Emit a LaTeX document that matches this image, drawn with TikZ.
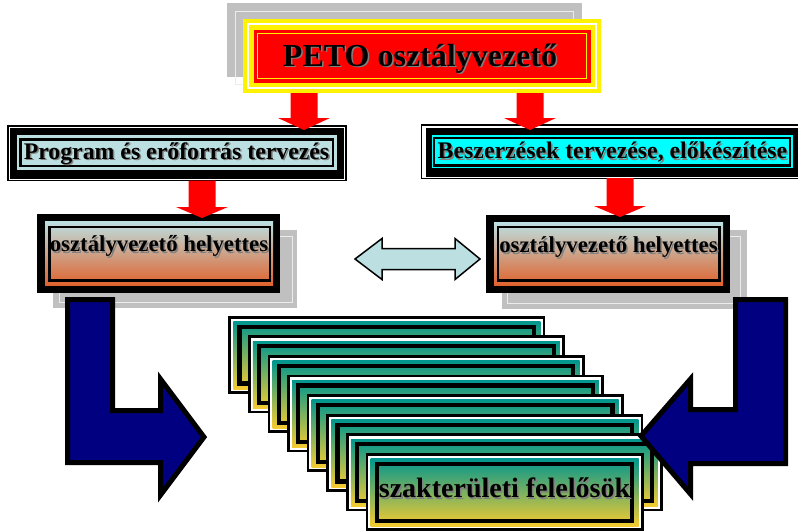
\documentclass[tikz,border=0pt]{standalone}
\usepackage{fontspec}
\setmainfont{Liberation Serif}
\usepackage{tikz}
\definecolor{progblue}{RGB}{188,224,226}
\definecolor{beszcyan}{RGB}{0,255,255}
\definecolor{shadowgray}{RGB}{192,192,192}
\definecolor{deporange}{RGB}{224,98,44}
\definecolor{cardteal}{RGB}{0,150,142}
\definecolor{cardmid}{RGB}{118,156,132}
\definecolor{cardyellow}{RGB}{246,204,48}
\definecolor{navyblue}{RGB}{0,0,128}
\newcommand{\shtext}[2][1.5pt]{\rlap{\kern#1\raisebox{-#1}{\textcolor{gray}{#2}}}#2}
\def\redarrow(#1:#2:#3:#4){\fill[color=red] (#1-13.5,#2) -- (#1+13.5,#2) -- (#1+13.5,#3) -- (#1+26,#3) -- (#1,#4) -- (#1-26,#3) -- (#1-13.5,#3) -- cycle;}
\def\card(#1:#2:#3){\begin{scope}[shift={(#1,#2)}]
	\draw[line width=2.7pt, fill=white] (1.35,1.2) rectangle (#3-1.35,76.3);
	\shade[cardshade] (5,5.5) rectangle (#3-5,73);
	\draw[line width=4.2pt] (11.2,10.7) rectangle (#3-11.2,67.5);
	\end{scope}}
\tikzset{
	petotext/.style={font=\bfseries\fontsize{32}{34}\selectfont, inner sep=0pt},
	plantext/.style={font=\bfseries\fontsize{23.8}{26}\selectfont, inner sep=0pt},
	deputytext/.style={font=\bfseries\fontsize{22.8}{25}\selectfont, inner sep=0pt},
	cardtext/.style={font=\bfseries\fontsize{28}{30}\selectfont, inner sep=0pt},
	cardshade/.style={top color=cardteal, middle color=cardmid, bottom color=cardyellow},
	deputyshade/.style={top color=progblue, bottom color=deporange},
	bigarrow/.style={fill=navyblue, draw=black, line width=5pt, line join=miter}
}

\begin{document}
\begin{tikzpicture}[x=1pt, y=-1pt]
			%%%%% START %%%%%
			\useasboundingbox (0,0) rectangle (798,531);
			\clip (0,0) rectangle (798,531);
			
			\fill[shadowgray] (227,3) rectangle (582,77);
			\draw[line width=1pt, color=white!85!gray] (235,11) rectangle (573,84);
			\fill[yellow] (243,19) rectangle (601,93);
			\draw[line width=2.5pt, color=white] (247.8,23.8) rectangle (596.2,88.2);
			\fill[red] (253.5,29.5) rectangle (590.5,82.5);
			\draw[line width=1.8pt, color=yellow] (257.5,33.5) rectangle (586.5,78.5);
			\node[petotext] (peto) at (420,59) {\shtext{PETO osztályvezető}};
			
			\draw[line width=1.6pt, fill=white] (7.8,125.8) rectangle (346,180.5);
			\fill (10,128.3) rectangle (343.5,178.5);
			\fill[progblue] (16.7,135) rectangle (337,170);
			\draw[line width=2.2pt] (20.5,139.5) rectangle (333.2,166);
			\node[plantext] (tervezes) at (176.5,154) {\shtext{Program és erőforrás tervezés}};
			
			\draw[line width=1.6pt, fill=white] (421.5,124.8) rectangle (803,178.5);
			\fill (426,128.3) rectangle (800,176.7);
			\fill[beszcyan] (431.7,135) rectangle (792.5,168.3);
			\draw[line width=2.2pt] (434.3,137.8) rectangle (790,165.5);
			\node[plantext] (beszerzes) at (612.5,153) {\shtext{Beszerzések tervezése, előkészítése}};
			
			\redarrow(304:93:118:130)
			\redarrow(530:93:118:130)
			
			\fill[shadowgray] (53,230) rectangle (297,308);
			\draw[line width=1pt, color=white!85!gray] (59,236) rectangle (292,302);
			\fill (37,214) rectangle (280,293);
			\shade[deputyshade] (45,221.5) rectangle (273,285.5);
			\draw[line width=2.3pt] (49.5,227) rectangle (270,280.5);
			\node[deputytext] (helyettesL) at (159,247) {\shtext{osztályvezető helyettes}};
			
			\fill[shadowgray] (502,230) rectangle (747,309);
			\draw[line width=1pt, color=white!85!gray] (507,236) rectangle (740,303);
			\fill (486,215) rectangle (730,293);
			\shade[deputyshade] (494,222.5) rectangle (723,285.5);
			\draw[line width=2.3pt] (498,227.3) rectangle (719.5,280.5);
			\node[deputytext] (helyettesR) at (608.5,248) {\shtext{osztályvezető helyettes}};
			
			\redarrow(202:180.5:207:218)
			\redarrow(620:178:206:217)
			
			\draw[fill=progblue, line width=1.5pt] (355,259) -- (382,238.5) -- (382,248.5) -- (455,248.5) -- (455,238.5) -- (480,259) -- (455,279.5) -- (455,269.5) -- (382,269.5) -- (382,279.5) -- cycle;
			
			\card(228.3:316:317)
			\card(247.9:335.6:317)
			\card(267.5:355.2:317)
			\card(287.1:374.8:317)
			\card(306.7:394.4:317)
			\card(326.3:414:317)
			\card(345.9:433.6:317)
			\card(365.5:453.2:278)
			\node[cardtext] (szakfelelos) at (504.5,489) {\shtext{szakterületi felelősök}};
			
			\draw[bigarrow] (67.5,299.5) -- (112.5,299.5) -- (112.5,410.5) -- (160.5,410.5) -- (160.5,379) -- (204,437) -- (160.5,495) -- (160.5,462.5) -- (67.5,462.5) -- cycle;
			\draw[bigarrow] (785.5,299.5) -- (735.5,299.5) -- (735.5,409.5) -- (690.5,409.5) -- (690.5,379) -- (641,436) -- (690.5,494) -- (690.5,463.5) -- (785.5,463.5) -- cycle;
			
			%%%%% END %%%%%
		\end{tikzpicture}
\end{document}
